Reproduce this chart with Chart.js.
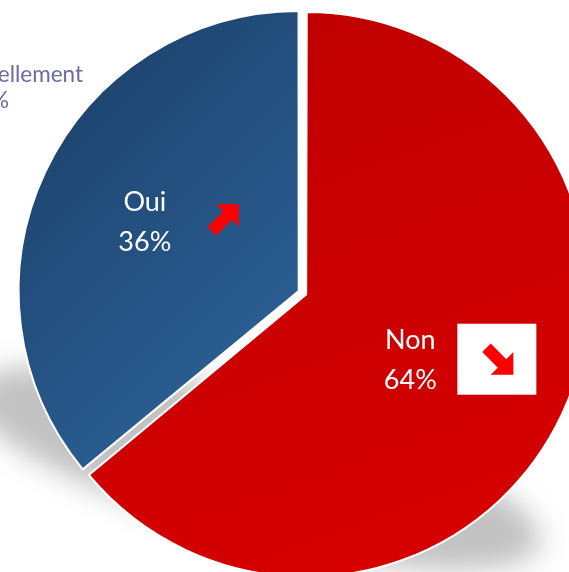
<!DOCTYPE html>
<html>
<head>
<meta charset="utf-8">
<script src="https://cdn.jsdelivr.net/npm/chart.js@4"></script>
<style>
  html, body { margin: 0; padding: 0; background: #fff; overflow: hidden; width: 569px; height: 572px; }
  #wrap { position: absolute; left: -17px; top: -27px; width: 640px; height: 640px; }
</style>
</head>
<body>
<div id="wrap"><canvas id="myChart" width="640" height="640"></canvas></div>
<script>
// data
var categories = ['Non', 'Oui', 'Partiellement'];
var values = [64, 36, 0];
var percentLabels = ['64%', '36%', '0%'];
var trendUp = [false, true, null];

// page -> canvas offset (canvas is shifted so the pie gets cropped like the picture)
var OX = 17, OY = 27;

function blueGrad(ctx) {
  var g = ctx.createLinearGradient(60 + OX, 90 + OY, 300 + OX, 330 + OY);
  g.addColorStop(0, '#1d436e');
  g.addColorStop(1, '#2b5f94');
  return g;
}
function redGrad(ctx) {
  var g = ctx.createLinearGradient(300 + OX, 20 + OY, 480 + OX, 520 + OY);
  g.addColorStop(0, '#c00000');
  g.addColorStop(1, '#d60000');
  return g;
}

function drawArrow(ctx, tx, ty, ang) {
  var pts = [[0,0],[-16,-16],[-16,-6],[-38,-6],[-38,6],[-16,6],[-16,16]];
  ctx.save();
  ctx.translate(tx, ty);
  ctx.rotate(ang);
  ctx.beginPath();
  pts.forEach(function (p, i) { i ? ctx.lineTo(p[0], p[1]) : ctx.moveTo(p[0], p[1]); });
  ctx.closePath();
  ctx.fillStyle = '#ff0000';
  ctx.fill();
  ctx.restore();
}

// same shift Chart.js v4 applies to an offset arc
function arcShift(off, circ) {
  var fix = 1 - Math.sin(Math.min(Math.PI, circ));
  return off / 4 * (1 + fix);
}

var shadowPlugin = {
  id: 'shadow',
  beforeDatasetsDraw: function (chart) {
    var ctx = chart.ctx;
    ctx.save();
    ctx.filter = 'blur(14px)';
    ctx.fillStyle = '#c2c2c2';
    ctx.beginPath();
    ctx.ellipse(255 + OX, 468 + OY, 295, 70, 15 * Math.PI / 180, 0, Math.PI * 2);
    ctx.fill();
    ctx.restore();
  }
};

var labelPlugin = {
  id: 'labels',
  afterDatasetsDraw: function (chart) {
    var ctx = chart.ctx;
    var meta = chart.getDatasetMeta(0);
    var radFactor = [0.43, 0.6];
    var angNudge = [0.13, -0.02];
    ctx.save();
    ctx.font = '27px Lato';
    ctx.textAlign = 'center';
    ctx.textBaseline = 'middle';
    meta.data.forEach(function (arc, i) {
      if (!values[i]) return;
      var p = arc.getProps(['x', 'y', 'startAngle', 'endAngle', 'outerRadius', 'circumference'], true);
      var mid = (p.startAngle + p.endAngle) / 2;
      var sh = arcShift(arc.options.offset || 0, p.circumference);
      var cx = p.x + Math.cos(mid) * sh, cy = p.y + Math.sin(mid) * sh;
      var a = mid + angNudge[i];
      var lx = cx + Math.cos(a) * p.outerRadius * radFactor[i];
      var ly = cy + Math.sin(a) * p.outerRadius * radFactor[i];
      ctx.fillStyle = '#ffffff';
      ctx.fillText(categories[i], lx, ly - 20);
      ctx.fillText(percentLabels[i], lx, ly + 20);
      if (trendUp[i] === true) {
        drawArrow(ctx, lx + 94, ly - 18, -Math.PI / 4);
      } else if (trendUp[i] === false) {
        ctx.fillStyle = '#ffffff';
        ctx.fillRect(lx + 47, ly - 37, 79, 71);
        drawArrow(ctx, lx + 103, ly + 14, Math.PI / 4);
      }
    });
    ctx.restore();
  },
  afterDraw: function (chart) {
    var ctx = chart.ctx;
    ctx.save();
    ctx.font = '22.5px Lato';
    ctx.fillStyle = '#6b6ba4';
    ctx.textAlign = 'right';
    ctx.textBaseline = 'alphabetic';
    ctx.fillText(categories[2], 83 + OX, 82 + OY);
    ctx.fillText(percentLabels[2], 9 + OX, 108 + OY);
    ctx.restore();
  }
};

var myChart = document.getElementById('myChart').getContext('2d');
var chart = new Chart(myChart, {
  type: 'pie',
  data: {
    labels: categories,
    datasets: [{
      data: values,
      backgroundColor: function (c) {
        var i = c.dataIndex;
        if (i === 0) return redGrad(c.chart.ctx);
        if (i === 1) return blueGrad(c.chart.ctx);
        return '#888';
      },
      borderColor: '#ffffff',
      borderWidth: [2, 2, 0],
      offset: [14, 19, 0],
      radius: 279
    }]
  },
  options: {
    responsive: false,
    animation: false,
    layout: { padding: 0 },
    plugins: {
      legend: { display: false },
      tooltip: { enabled: false }
    }
  },
  plugins: [shadowPlugin, labelPlugin]
});
</script>
</body>
</html>
